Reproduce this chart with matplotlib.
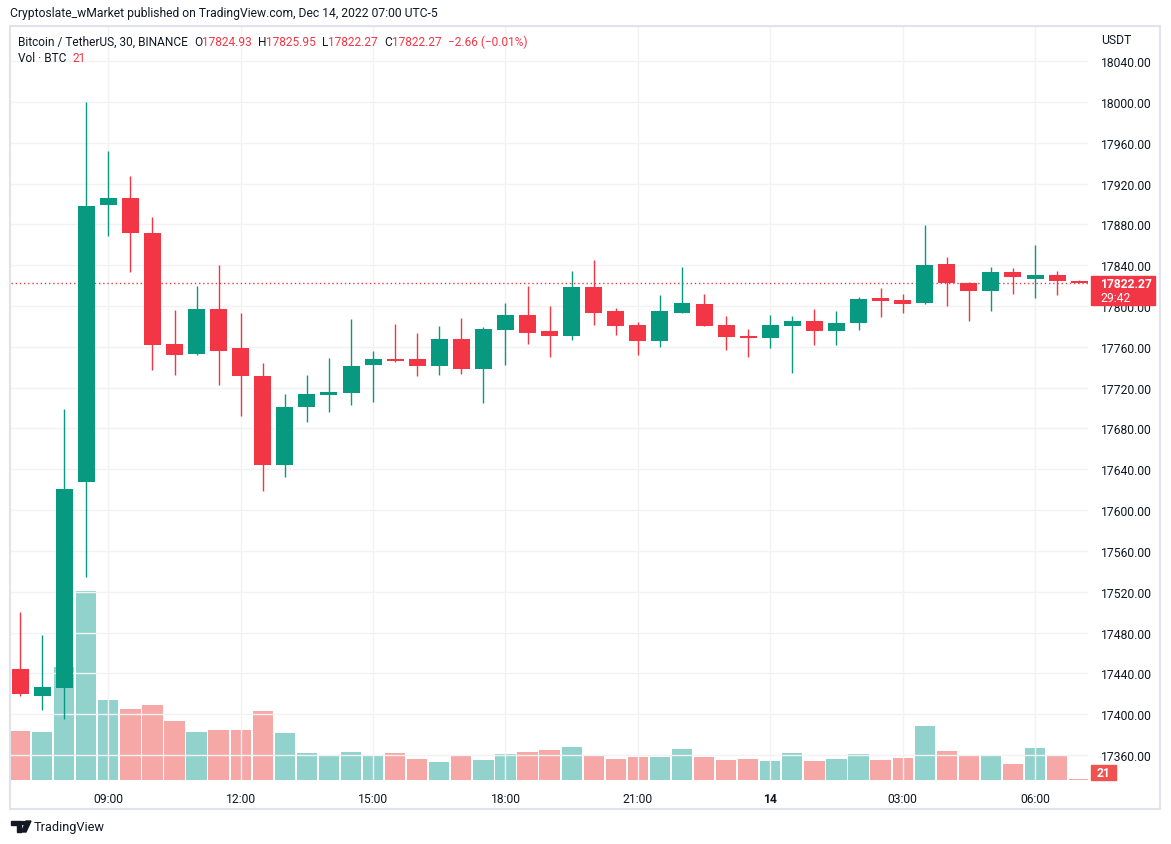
import matplotlib
matplotlib.use("Agg")
import matplotlib.pyplot as plt
from matplotlib.patches import Rectangle, Polygon, Circle
import numpy as np

# ---------------- data ----------------
opens = [17444, 17418, 17426, 17628, 17899, 17906, 17872, 17763, 17753, 17797,
         17759, 17731, 17644, 17701, 17713, 17715, 17742, 17748, 17748, 17741,
         17768, 17738, 17777, 17791, 17776, 17771, 17819, 17795, 17781, 17766,
         17793, 17802, 17781, 17771, 17769, 17780, 17785, 17776, 17783, 17808,
         17806, 17803, 17841, 17823, 17815, 17833, 17827, 17830, 17824.93]
highs = [17500, 17478, 17699, 18000, 17952, 17927, 17887, 17796, 17820, 17840,
         17793, 17744, 17714, 17732, 17749, 17787, 17756, 17782, 17774, 17780,
         17788, 17779, 17803, 17820, 17800, 17834, 17845, 17798, 17784, 17811,
         17838, 17812, 17790, 17778, 17791, 17790, 17797, 17795, 17809, 17818,
         17812, 17879, 17848, 17824, 17838, 17837, 17860, 17834, 17825.95]
lows = [17418, 17404, 17395, 17534, 17869, 17833, 17737, 17732, 17752, 17723,
        17692, 17619, 17632, 17686, 17696, 17703, 17706, 17745, 17731, 17732,
        17733, 17705, 17742, 17763, 17750, 17767, 17781, 17772, 17752, 17760,
        17793, 17780, 17757, 17750, 17759, 17734, 17762, 17762, 17777, 17789,
        17793, 17802, 17800, 17785, 17795, 17812, 17808, 17811, 17822.27]
closes = [17420, 17427, 17621, 17898, 17906, 17872, 17762, 17752, 17797, 17756,
          17731, 17644, 17701, 17714, 17716, 17741, 17748, 17746, 17741, 17768,
          17738, 17778, 17791, 17774, 17771, 17819, 17793, 17780, 17766, 17795,
          17803, 17780, 17770, 17769, 17781, 17785, 17776, 17783, 17807, 17805,
          17802, 17840, 17823, 17815, 17833, 17828, 17830, 17825, 17822.27]
volumes = [1960, 1920, 4520, 7560, 3200, 2840, 3000, 2360, 1920, 2000,
           2000, 2760, 1880, 1070, 950, 1110, 950, 1070, 830, 710,
           950, 790, 1030, 1110, 1190, 1310, 990, 830, 910, 910,
           1230, 910, 790, 830, 750, 1070, 750, 830, 1030, 790,
           870, 2150, 1150, 950, 990, 630, 1270, 990, 21]
time_tick_idx = [4, 10, 16, 22, 28, 34, 40, 46]
time_tick_labels = ["09:00", "12:00", "15:00", "18:00", "21:00", "14", "03:00", "06:00"]
price_ticks = list(range(17360, 18041, 40))

# ---------------- style ----------------
W, H = 1171, 845
FONT = ["Roboto", "DejaVu Sans"]
plt.rcParams['font.family'] = FONT
GREEN = "#089981"
RED = "#f23645"
VGREEN = "#26a69a"
VRED = "#ef5350"
TXT = "#131722"
GRID = "#f2f2f4"

fig = plt.figure(figsize=(W / 100, H / 100), dpi=100)
fig.patch.set_facecolor("white")

def fx(x):
    return x / W

def fy(y):
    return 1 - y / H

left, right, top, bottom = 11, 1088, 28, 781
rect = [fx(left), fy(bottom), fx(right) - fx(left), fy(top) - fy(bottom)]

ax_vol = fig.add_axes(rect)
ax = fig.add_axes(rect)
ax.patch.set_alpha(0)

n = len(opens)
x = np.arange(n)
xlim = (-0.41, 48.4)

# volume
vcols = [VGREEN if c >= o else VRED for o, c in zip(opens, closes)]
ax_vol.bar(x, volumes, width=0.92, color=vcols, alpha=0.5, linewidth=0, zorder=2)
ax_vol.set_xlim(*xlim)
ax_vol.set_ylim(0, max(volumes) * 3.98)
ax_vol.axis("off")

# grid
for p in price_ticks:
    ax.axhline(p, color=GRID, lw=1, zorder=0)
for t in time_tick_idx:
    ax.axvline(t, color=GRID, lw=1, zorder=0)

# candles
cols = [GREEN if c >= o else RED for o, c in zip(opens, closes)]
ax.vlines(x, lows, highs, colors=cols, lw=1.0, zorder=3)
bottoms = [min(o, c) for o, c in zip(opens, closes)]
heights = [max(abs(c - o), 0.9) for o, c in zip(opens, closes)]
ax.bar(x, heights, bottom=bottoms, width=0.77, color=cols, linewidth=0, zorder=4)

# last price dotted line
last = closes[-1]
ax.axhline(last, color=RED, lw=1, ls=(0, (1, 2)), zorder=2)

ax.set_xlim(*xlim)
ax.set_ylim(17335.5, 18073.5)
for s in ax.spines.values():
    s.set_visible(False)
ax.yaxis.tick_right()
ax.set_yticks(price_ticks)
ax.set_yticklabels([f"{p:.2f}" for p in price_ticks])
ax.tick_params(axis="y", length=0, pad=9, labelsize=8.7, labelcolor=TXT)
ax.set_xticks(time_tick_idx)
ax.set_xticklabels(time_tick_labels)
ax.tick_params(axis="x", length=0, pad=9, labelsize=8.7, labelcolor=TXT)
for lab in ax.get_xticklabels():
    if lab.get_text() == "14":
        lab.set_fontweight("bold")

# frame
fig.patches.append(Rectangle((fx(10), fy(810)), fx(1160) - fx(10), fy(27) - fy(810),
                             transform=fig.transFigure, fill=False,
                             edgecolor="#e0e3eb", lw=1.5, zorder=0))

# USDT label
fig.text(fx(1101), fy(40), "USDT", fontsize=8.7, color=TXT, va="center", ha="left")

# price label box
fig.patches.append(Rectangle((fx(1091), fy(306)), fx(1155) - fx(1091), fy(277) - fy(306),
                             transform=fig.transFigure, color=RED, zorder=5))
fig.text(fx(1100), fy(284.5), f"{last:.2f}", fontsize=8.7, color="white",
         fontweight="bold", va="center", ha="left", zorder=6)
fig.text(fx(1100), fy(298.5), "29:42", fontsize=8.7, color="white",
         va="center", ha="left", zorder=6)

# volume label box
fig.patches.append(Rectangle((fx(1091), fy(781)), fx(1116) - fx(1091), fy(766) - fy(781),
                             transform=fig.transFigure, color=VRED, zorder=5))
fig.text(fx(1103.5), fy(774), f"{volumes[-1]}", fontsize=8.7, color="white",
         fontweight="bold", va="center", ha="center", zorder=6)

# header
fig.text(fx(10), fy(14), "Cryptoslate_wMarket published on TradingView.com, Dec 14, 2022 07:00 UTC-5",
         fontsize=8.7, color=TXT, va="center", ha="left")

renderer = fig.canvas.get_renderer()

def chain(x0, y, parts, size=8.55):
    xx = x0
    for s, c in parts:
        t = fig.text(fx(xx), fy(y), s, fontsize=size, color=c, va="center", ha="left")
        bb = t.get_window_extent(renderer=renderer)
        xx += bb.width

chg = closes[-1] - opens[-1]
pct = chg / opens[-1] * 100
chain(18, 42, [("Bitcoin / TetherUS, 30, BINANCE  ", TXT),
               ("O", TXT), (f"{opens[-1]:.2f}  ", RED),
               ("H", TXT), (f"{highs[-1]:.2f}  ", RED),
               ("L", TXT), (f"{lows[-1]:.2f}  ", RED),
               ("C", TXT), (f"{closes[-1]:.2f}  ", RED),
               (f"\u2212{abs(chg):.2f} (\u2212{abs(pct):.2f}%)", RED)])
chain(18, 58, [("Vol \u00b7 BTC  ", TXT), (f"{volumes[-1]}", RED)])

# footer logo
fig.patches.append(Polygon([(fx(11), fy(822)), (fx(21), fy(822)), (fx(21), fy(833)),
                            (fx(17), fy(833)), (fx(17), fy(826)), (fx(11), fy(826))],
                           closed=True, transform=fig.transFigure, color=TXT))
fig.patches.append(Circle((fx(23.5), fy(824)), 2.0 / W, transform=fig.transFigure, color=TXT))
fig.patches.append(Polygon([(fx(26), fy(822)), (fx(31), fy(822)), (fx(26), fy(833)), (fx(21.5), fy(833))],
                           closed=True, transform=fig.transFigure, color=TXT))
fig.text(fx(34), fy(827.5), "TradingView", fontsize=9.2, color=TXT, va="center", ha="left")

fig.savefig("out.png", dpi=100)
